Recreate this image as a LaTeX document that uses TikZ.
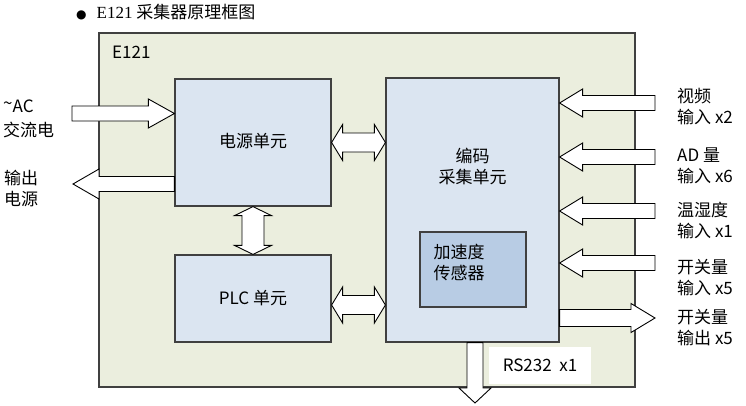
\documentclass[tikz,border=0pt]{standalone}
\usepackage{fontspec}
\setmainfont{Noto Sans CJK SC}
\newfontfamily\titlefont{Liberation Serif}
\newfontfamily\symfont{DejaVu Sans}
\usetikzlibrary{calc}
\definecolor{boardfill}{RGB}{235,238,222}
\definecolor{unitfill}{RGB}{219,229,241}
\definecolor{sensfill}{RGB}{184,204,228}
\definecolor{linegray}{RGB}{64,64,64}
\tikzset{
  unitbox/.style={draw=linegray, fill=unitfill, line width=1.2pt, inner sep=0pt},
  sidetext/.style={align=left, anchor=west, inner sep=0pt},
  blkarrow/.style={draw=black, fill=white, line width=0.9pt, line join=miter},
}
% block arrow: tail, tip, head length, half shaft, half head
\newcommand{\fatarrow}[5]{%
  \coordinate (hb) at ($(#2)!#3!(#1)$);
  \draw[blkarrow] ($(#1)!#4!90:(#2)$) -- ($(hb)!#4!90:(#2)$) -- ($(hb)!#5!90:(#2)$) -- (#2)
    -- ($(hb)!#5!-90:(#2)$) -- ($(hb)!#4!-90:(#2)$) -- ($(#1)!#4!-90:(#2)$) -- cycle;}
% two-headed block arrow: end, end, head length, half shaft, half head
\newcommand{\fatdouble}[5]{%
  \coordinate (ha) at ($(#1)!#3!(#2)$);
  \coordinate (hc) at ($(#2)!#3!(#1)$);
  \draw[blkarrow] (#1) -- ($(ha)!#5!90:(#2)$) -- ($(ha)!#4!90:(#2)$) -- ($(hc)!#4!-90:(#1)$)
    -- ($(hc)!#5!-90:(#1)$) -- (#2) -- ($(hc)!#5!90:(#1)$) -- ($(hc)!#4!90:(#1)$)
    -- ($(ha)!#4!-90:(#2)$) -- ($(ha)!#5!-90:(#2)$) -- cycle;}
\begin{document}
\begin{tikzpicture}[x=1pt, y=-1pt, font=\fontsize{17pt}{21pt}\selectfont]
\useasboundingbox (0,0) rectangle (746,405);
% title
\node[sidetext] (ttl) at (76,12) {{\symfont\fontsize{12pt}{12pt}\selectfont ●}\hspace{10pt}{\titlefont E121} 采集器原理框图};
% board and units
\node[unitbox, fill=boardfill, minimum width=536pt, minimum height=354pt] (board) at (367,210) {};
\node[sidetext] (boardlbl) at (112,52) {E121};
\node[unitbox, minimum width=156pt, minimum height=127pt] (pwr) at (253,142.5) {\raisebox{4pt}{电源单元}};
\node[unitbox, minimum width=156pt, minimum height=87pt] (plc) at (253,298.5) {PLC 单元};
\node[unitbox, minimum width=173pt, minimum height=264pt] (enc) at (472.5,210) {};
\node[align=center, inner sep=0pt] (enclbl) at ($(enc.north)+(0,89.5)$) {编码\\采集单元};
\node[unitbox, fill=sensfill, minimum width=106pt, minimum height=75pt] (acc) at (473,269.5) {};
\node[sidetext] (acclbl) at ($(acc.west)+(14,-7)$) {加速度\\传感器};
\node[fill=white, minimum width=102pt, minimum height=37pt] (rslbl) at (540,365.5) {RS232\ \ x1};
% power in and out
\coordinate (acin) at (72,113.5);
\coordinate (acend) at (acin -| pwr.west);
\fatarrow{acin}{acend}{26pt}{7.5pt}{14.5pt}
\coordinate (pout) at (73,184);
\coordinate (poutbeg) at (pout -| pwr.west);
\fatarrow{poutbeg}{pout}{26pt}{7.5pt}{15pt}
% links between units
\coordinate (pe) at (enc.west |- pwr.east);
\fatdouble{pwr.east}{pe}{11pt}{9.5pt}{18pt}
\coordinate (pl) at ($(plc.east)+(0,6.5)$);
\coordinate (pl2) at (pl -| enc.west);
\fatdouble{pl}{pl2}{11pt}{9.5pt}{18pt}
\fatdouble{pwr.south}{plc.north}{9pt}{11pt}{18.5pt}
% inputs on the right
\foreach \yy/\nm in {103/vid,157/ad,211/temp,263/swin}{
  \coordinate (\nm) at (655,\yy);
  \coordinate (\nm tip) at (\nm -| enc.east);
  \fatarrow{\nm}{\nm tip}{23pt}{7.5pt}{14pt}
}
\coordinate (swout) at (655,318);
\coordinate (swoutbeg) at (swout -| enc.east);
\fatarrow{swoutbeg}{swout}{24pt}{8.5pt}{14.5pt}
\coordinate (rsout) at (475,403);
\coordinate (rsbeg) at (rsout |- enc.south);
\fatarrow{rsbeg}{rsout}{15pt}{8pt}{16pt}
% outside labels
\node[sidetext] (aclbl) at (3,119) {\raisebox{3pt}{\textasciitilde}AC\\[3pt]交流电};
\node[sidetext] (outlbl) at (4,189) {输出\\电源};
\node[sidetext] (vidlbl) at (677,106.5) {视频\\输入 x2};
\node[sidetext] (adlbl) at (677,166) {AD 量\\输入 x6};
\node[sidetext] (templbl) at (677,220.5) {温湿度\\输入 x1};
\node[sidetext] (swinlbl) at (677,277.5) {开关量\\输入 x5};
\node[sidetext] (swoutlbl) at (677,328) {开关量\\输出 x5};
\end{tikzpicture}
\end{document}
